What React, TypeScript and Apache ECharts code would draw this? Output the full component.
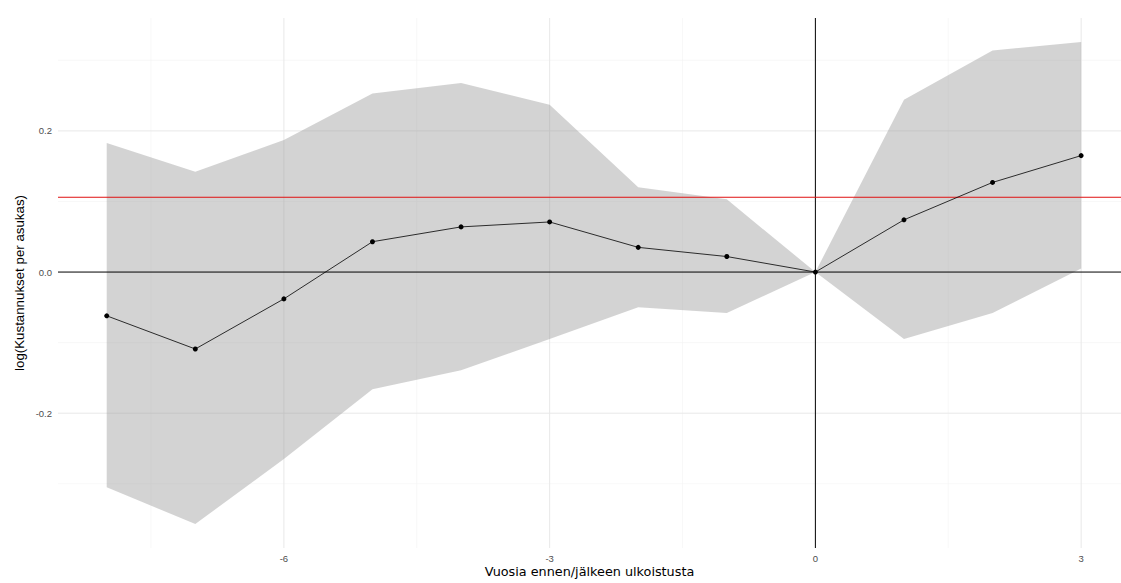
import React, { useEffect, useRef } from "react";
import * as echarts from "echarts";

const years = [-8, -7, -6, -5, -4, -3, -2, -1, 0, 1, 2, 3];
const estimate = [-0.062, -0.109, -0.038, 0.043, 0.064, 0.071, 0.035, 0.022, 0, 0.074, 0.127, 0.165];
const upper = [0.183, 0.142, 0.187, 0.253, 0.268, 0.237, 0.12, 0.103, 0, 0.244, 0.314, 0.326];
const lower = [-0.305, -0.357, -0.265, -0.166, -0.139, -0.095, -0.05, -0.058, 0, -0.095, -0.058, 0.005];
const redLevel = 0.106;
const xTicks = [-6, -3, 0, 3];
const xMinor = [-7.5, -4.5, -1.5, 1.5];
const yTicks = [-0.2, 0, 0.2];
const yMinor = [-0.3, -0.1, 0.1, 0.3];

type Rule = { dir: "v" | "h"; value: number; color: string; width: number };

function ruleSeries(rules: Rule[], z: number) {
  return {
    type: "custom",
    z,
    silent: true,
    clip: true,
    data: rules.map((_, i) => i),
    renderItem: (params: any, api: any) => {
      const r = rules[api.value(0)];
      const cs = params.coordSys;
      let shape;
      if (r.dir === "v") {
        const p = api.coord([r.value, 0]);
        shape = { x1: p[0], y1: cs.y, x2: p[0], y2: cs.y + cs.height };
      } else {
        const p = api.coord([0, r.value]);
        shape = { x1: cs.x, y1: p[1], x2: cs.x + cs.width, y2: p[1] };
      }
      return { type: "line", shape, style: { stroke: r.color, lineWidth: r.width } };
    },
  };
}

export default function App() {
  const ref = useRef<HTMLDivElement>(null);
  useEffect(() => {
    if (!ref.current) return;
    const chart = echarts.init(ref.current, undefined, { renderer: "svg" });
    const font = "Liberation Sans, Arial, sans-serif";
    const gridRules: Rule[] = [
      ...xMinor.map((v) => ({ dir: "v" as const, value: v, color: "#f3f3f3", width: 0.6 })),
      ...yMinor.map((v) => ({ dir: "h" as const, value: v, color: "#f3f3f3", width: 0.6 })),
      ...xTicks.filter((v) => v !== 0).map((v) => ({ dir: "v" as const, value: v, color: "#e8e8e8", width: 1 })),
      ...yTicks.filter((v) => v !== 0).map((v) => ({ dir: "h" as const, value: v, color: "#e8e8e8", width: 1 })),
    ];
    const refRules: Rule[] = [
      { dir: "h", value: 0, color: "#000000", width: 1 },
      { dir: "v", value: 0, color: "#000000", width: 1 },
      { dir: "h", value: redLevel, color: "#e01010", width: 1 },
    ];
    chart.setOption({
      animation: false,
      textStyle: { fontFamily: font },
      grid: { left: 58, right: 0, top: 18, bottom: 35, containLabel: false, outerBoundsMode: "none" },
      xAxis: {
        type: "value",
        min: -8.55,
        max: 3.45,
        splitLine: { show: false },
        axisLine: { show: false },
        axisTick: { show: false },
        axisLabel: {
          customValues: xTicks,
          color: "#4d4d4d",
          fontSize: 9.5,
          margin: 5,
          formatter: (v: number) => String(v),
        },
        name: "Vuosia ennen/jälkeen ulkoistusta",
        nameLocation: "middle",
        nameGap: 17,
        nameMoveOverlap: false,
        nameTextStyle: { color: "#000", fontSize: 12.8, fontFamily: "DejaVu Sans" },
      },
      yAxis: {
        type: "value",
        min: -0.391,
        max: 0.36,
        splitLine: { show: false },
        axisLine: { show: false },
        axisTick: { show: false },
        axisLabel: {
          customValues: yTicks,
          color: "#4d4d4d",
          fontSize: 9.5,
          margin: 6,
          formatter: (v: number) => v.toFixed(1),
        },
        name: "log(Kustannukset per asukas)",
        nameLocation: "middle",
        nameGap: 32,
        nameMoveOverlap: false,
        nameTextStyle: { color: "#000", fontSize: 13.3 },
      },
      series: [
        ruleSeries(gridRules, 1),
        {
          type: "custom",
          z: 2,
          silent: true,
          data: [0],
          renderItem: (_params: any, api: any) => {
            const pts: number[][] = [];
            years.forEach((x, i) => pts.push(api.coord([x, upper[i]])));
            for (let i = years.length - 1; i >= 0; i--) pts.push(api.coord([years[i], lower[i]]));
            return {
              type: "polygon",
              shape: { points: pts },
              style: { fill: "rgba(150,150,150,0.42)", stroke: "none" },
            };
          },
        },
        ruleSeries(refRules, 3),
        {
          type: "line",
          z: 4,
          data: years.map((x, i) => [x, estimate[i]]),
          lineStyle: { color: "#000", width: 0.8 },
          itemStyle: { color: "#000", borderWidth: 0 },
          symbol: "circle",
          symbolSize: 5,
          showSymbol: true,
        },
      ],
    });
    return () => chart.dispose();
  }, []);
  return (
    <div
      ref={ref}
      style={{ position: "fixed", left: 0, top: 0, width: 1121, height: 583, background: "#fff" }}
    />
  );
}
